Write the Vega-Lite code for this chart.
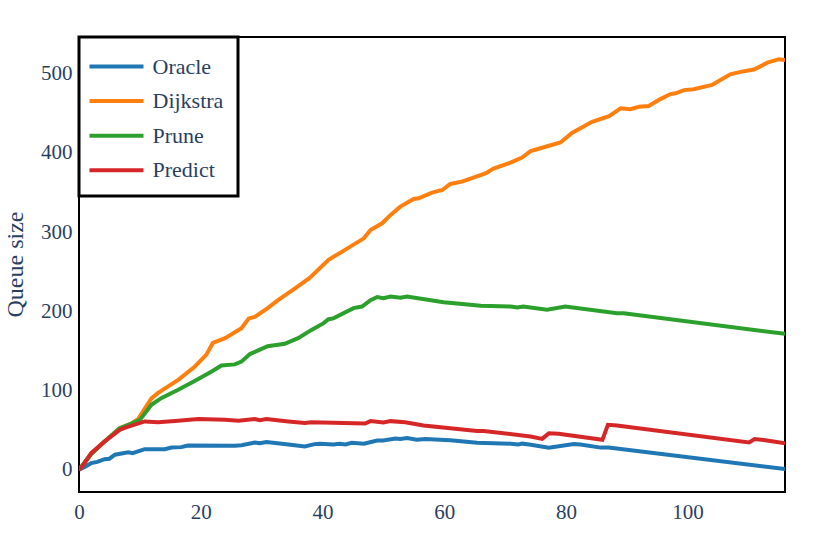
{
  "$schema": "https://vega.github.io/schema/vega-lite/v6.json",
  "width": 706,
  "height": 455,
  "autosize": {"type": "none"},
  "padding": {"left": 79, "top": 37, "right": 45, "bottom": 64},
  "background": "white",
  "config": {
    "view": {"stroke": "black", "strokeWidth": 2},
    "font": "'Liberation Serif', 'Times New Roman', Times, serif",
    "axis": {
      "grid": false,
      "domain": false,
      "ticks": false,
      "labelFlush": false,
      "labelFont": "'Liberation Serif', 'Times New Roman', Times, serif",
      "labelFontSize": 21,
      "labelColor": "#2a3f5f",
      "titleFont": "'Liberation Serif', 'Times New Roman', Times, serif",
      "titleFontSize": 24,
      "titleFontWeight": "normal",
      "titleColor": "#2a3f5f"
    }
  },
  "data": {
    "values": [
      {"x": 0, "y": 0, "series": "Oracle"},
      {"x": 1, "y": 4, "series": "Oracle"},
      {"x": 2, "y": 8.4, "series": "Oracle"},
      {"x": 3, "y": 10, "series": "Oracle"},
      {"x": 4.2, "y": 13.4, "series": "Oracle"},
      {"x": 5, "y": 14, "series": "Oracle"},
      {"x": 5.9, "y": 19, "series": "Oracle"},
      {"x": 8.1, "y": 22, "series": "Oracle"},
      {"x": 8.8, "y": 21, "series": "Oracle"},
      {"x": 10.8, "y": 26, "series": "Oracle"},
      {"x": 14.1, "y": 26, "series": "Oracle"},
      {"x": 15.2, "y": 28, "series": "Oracle"},
      {"x": 16.8, "y": 28.6, "series": "Oracle"},
      {"x": 17.9, "y": 30.7, "series": "Oracle"},
      {"x": 25.6, "y": 30.3, "series": "Oracle"},
      {"x": 26.7, "y": 31, "series": "Oracle"},
      {"x": 28.9, "y": 34.5, "series": "Oracle"},
      {"x": 29.7, "y": 33.6, "series": "Oracle"},
      {"x": 30.8, "y": 35, "series": "Oracle"},
      {"x": 34.4, "y": 32, "series": "Oracle"},
      {"x": 37.1, "y": 29.4, "series": "Oracle"},
      {"x": 38.7, "y": 32.4, "series": "Oracle"},
      {"x": 39.6, "y": 33, "series": "Oracle"},
      {"x": 41.8, "y": 32, "series": "Oracle"},
      {"x": 42.8, "y": 33, "series": "Oracle"},
      {"x": 43.8, "y": 32, "series": "Oracle"},
      {"x": 44.8, "y": 34, "series": "Oracle"},
      {"x": 46.8, "y": 33, "series": "Oracle"},
      {"x": 49, "y": 37, "series": "Oracle"},
      {"x": 50, "y": 37, "series": "Oracle"},
      {"x": 52, "y": 39.5, "series": "Oracle"},
      {"x": 52.8, "y": 39, "series": "Oracle"},
      {"x": 53.9, "y": 40, "series": "Oracle"},
      {"x": 55.5, "y": 38, "series": "Oracle"},
      {"x": 56.9, "y": 39, "series": "Oracle"},
      {"x": 61, "y": 37.4, "series": "Oracle"},
      {"x": 65.4, "y": 34, "series": "Oracle"},
      {"x": 70.9, "y": 33, "series": "Oracle"},
      {"x": 72.2, "y": 32, "series": "Oracle"},
      {"x": 72.8, "y": 33, "series": "Oracle"},
      {"x": 74, "y": 32, "series": "Oracle"},
      {"x": 77.2, "y": 28, "series": "Oracle"},
      {"x": 81.3, "y": 32.4, "series": "Oracle"},
      {"x": 82.4, "y": 32, "series": "Oracle"},
      {"x": 85.7, "y": 28, "series": "Oracle"},
      {"x": 87, "y": 28, "series": "Oracle"},
      {"x": 116, "y": 1, "series": "Oracle"},

      {"x": 0, "y": 0, "series": "Dijkstra"},
      {"x": 2, "y": 20, "series": "Dijkstra"},
      {"x": 4.2, "y": 35.7, "series": "Dijkstra"},
      {"x": 6.7, "y": 52.6, "series": "Dijkstra"},
      {"x": 8.5, "y": 58, "series": "Dijkstra"},
      {"x": 9.7, "y": 64, "series": "Dijkstra"},
      {"x": 11.9, "y": 90, "series": "Dijkstra"},
      {"x": 13, "y": 97, "series": "Dijkstra"},
      {"x": 16.3, "y": 113.5, "series": "Dijkstra"},
      {"x": 19, "y": 130, "series": "Dijkstra"},
      {"x": 20.9, "y": 145, "series": "Dijkstra"},
      {"x": 22, "y": 160, "series": "Dijkstra"},
      {"x": 24, "y": 166, "series": "Dijkstra"},
      {"x": 26.7, "y": 178.6, "series": "Dijkstra"},
      {"x": 27.9, "y": 191, "series": "Dijkstra"},
      {"x": 28.9, "y": 193, "series": "Dijkstra"},
      {"x": 31, "y": 204, "series": "Dijkstra"},
      {"x": 32.7, "y": 214, "series": "Dijkstra"},
      {"x": 35.5, "y": 229, "series": "Dijkstra"},
      {"x": 37.9, "y": 242, "series": "Dijkstra"},
      {"x": 41, "y": 265, "series": "Dijkstra"},
      {"x": 43.5, "y": 276.5, "series": "Dijkstra"},
      {"x": 46.8, "y": 292, "series": "Dijkstra"},
      {"x": 47.9, "y": 302.6, "series": "Dijkstra"},
      {"x": 49.8, "y": 311, "series": "Dijkstra"},
      {"x": 51.2, "y": 321.6, "series": "Dijkstra"},
      {"x": 52.8, "y": 332, "series": "Dijkstra"},
      {"x": 55, "y": 341.7, "series": "Dijkstra"},
      {"x": 55.8, "y": 342.6, "series": "Dijkstra"},
      {"x": 58, "y": 349.7, "series": "Dijkstra"},
      {"x": 59.7, "y": 353, "series": "Dijkstra"},
      {"x": 61, "y": 360.6, "series": "Dijkstra"},
      {"x": 62.9, "y": 363.6, "series": "Dijkstra"},
      {"x": 66.8, "y": 374, "series": "Dijkstra"},
      {"x": 68.1, "y": 380, "series": "Dijkstra"},
      {"x": 70.9, "y": 387.5, "series": "Dijkstra"},
      {"x": 72.8, "y": 394, "series": "Dijkstra"},
      {"x": 74.2, "y": 402, "series": "Dijkstra"},
      {"x": 75.8, "y": 405.6, "series": "Dijkstra"},
      {"x": 79.1, "y": 413, "series": "Dijkstra"},
      {"x": 81, "y": 425, "series": "Dijkstra"},
      {"x": 82.4, "y": 431, "series": "Dijkstra"},
      {"x": 84.3, "y": 439, "series": "Dijkstra"},
      {"x": 87.1, "y": 446, "series": "Dijkstra"},
      {"x": 89, "y": 456, "series": "Dijkstra"},
      {"x": 90.6, "y": 455, "series": "Dijkstra"},
      {"x": 92, "y": 458, "series": "Dijkstra"},
      {"x": 93.6, "y": 459, "series": "Dijkstra"},
      {"x": 95.6, "y": 468, "series": "Dijkstra"},
      {"x": 97.2, "y": 474, "series": "Dijkstra"},
      {"x": 98, "y": 475, "series": "Dijkstra"},
      {"x": 99.4, "y": 479, "series": "Dijkstra"},
      {"x": 101, "y": 480, "series": "Dijkstra"},
      {"x": 104, "y": 485.5, "series": "Dijkstra"},
      {"x": 107, "y": 499, "series": "Dijkstra"},
      {"x": 108.7, "y": 502, "series": "Dijkstra"},
      {"x": 110.9, "y": 505, "series": "Dijkstra"},
      {"x": 113.1, "y": 513.6, "series": "Dijkstra"},
      {"x": 115, "y": 518, "series": "Dijkstra"},
      {"x": 116, "y": 517, "series": "Dijkstra"},

      {"x": 0, "y": 0, "series": "Prune"},
      {"x": 2, "y": 20, "series": "Prune"},
      {"x": 4.2, "y": 35.7, "series": "Prune"},
      {"x": 6.7, "y": 52.6, "series": "Prune"},
      {"x": 8.5, "y": 58, "series": "Prune"},
      {"x": 10, "y": 63, "series": "Prune"},
      {"x": 11.9, "y": 82, "series": "Prune"},
      {"x": 13.5, "y": 90.4, "series": "Prune"},
      {"x": 16.3, "y": 101, "series": "Prune"},
      {"x": 19, "y": 112, "series": "Prune"},
      {"x": 21.8, "y": 124, "series": "Prune"},
      {"x": 23.4, "y": 131.5, "series": "Prune"},
      {"x": 25.6, "y": 133, "series": "Prune"},
      {"x": 26.7, "y": 136.6, "series": "Prune"},
      {"x": 28.1, "y": 146, "series": "Prune"},
      {"x": 31, "y": 156, "series": "Prune"},
      {"x": 33.8, "y": 159, "series": "Prune"},
      {"x": 36, "y": 166, "series": "Prune"},
      {"x": 38.2, "y": 176.5, "series": "Prune"},
      {"x": 40.2, "y": 185, "series": "Prune"},
      {"x": 41, "y": 190, "series": "Prune"},
      {"x": 41.8, "y": 191, "series": "Prune"},
      {"x": 45.1, "y": 204, "series": "Prune"},
      {"x": 46.5, "y": 206, "series": "Prune"},
      {"x": 47.9, "y": 214, "series": "Prune"},
      {"x": 49, "y": 218, "series": "Prune"},
      {"x": 50, "y": 216.5, "series": "Prune"},
      {"x": 51.2, "y": 218.6, "series": "Prune"},
      {"x": 52.8, "y": 217, "series": "Prune"},
      {"x": 53.9, "y": 218.6, "series": "Prune"},
      {"x": 59.9, "y": 211.5, "series": "Prune"},
      {"x": 66, "y": 207, "series": "Prune"},
      {"x": 70.9, "y": 206, "series": "Prune"},
      {"x": 72, "y": 204.7, "series": "Prune"},
      {"x": 73, "y": 206, "series": "Prune"},
      {"x": 76.9, "y": 202, "series": "Prune"},
      {"x": 79.9, "y": 206, "series": "Prune"},
      {"x": 88.4, "y": 197.6, "series": "Prune"},
      {"x": 89.5, "y": 197.6, "series": "Prune"},
      {"x": 116, "y": 171.5, "series": "Prune"},

      {"x": 0, "y": 0, "series": "Predict"},
      {"x": 0.7, "y": 6, "series": "Predict"},
      {"x": 2, "y": 21, "series": "Predict"},
      {"x": 4.2, "y": 35.7, "series": "Predict"},
      {"x": 6.7, "y": 50.4, "series": "Predict"},
      {"x": 7.5, "y": 53, "series": "Predict"},
      {"x": 10.8, "y": 61, "series": "Predict"},
      {"x": 13, "y": 60, "series": "Predict"},
      {"x": 16.3, "y": 62, "series": "Predict"},
      {"x": 19.6, "y": 64, "series": "Predict"},
      {"x": 24, "y": 63, "series": "Predict"},
      {"x": 26.2, "y": 62, "series": "Predict"},
      {"x": 28.9, "y": 64, "series": "Predict"},
      {"x": 29.7, "y": 62.6, "series": "Predict"},
      {"x": 30.8, "y": 64, "series": "Predict"},
      {"x": 34.4, "y": 61, "series": "Predict"},
      {"x": 37.1, "y": 59, "series": "Predict"},
      {"x": 38.2, "y": 60, "series": "Predict"},
      {"x": 47, "y": 58.4, "series": "Predict"},
      {"x": 47.9, "y": 61.4, "series": "Predict"},
      {"x": 50, "y": 59.6, "series": "Predict"},
      {"x": 51.2, "y": 61.4, "series": "Predict"},
      {"x": 53.6, "y": 60, "series": "Predict"},
      {"x": 56.6, "y": 56, "series": "Predict"},
      {"x": 65.4, "y": 49, "series": "Predict"},
      {"x": 66.5, "y": 49, "series": "Predict"},
      {"x": 74.2, "y": 42, "series": "Predict"},
      {"x": 76.1, "y": 39, "series": "Predict"},
      {"x": 77.2, "y": 46, "series": "Predict"},
      {"x": 78.8, "y": 45.4, "series": "Predict"},
      {"x": 86, "y": 37.8, "series": "Predict"},
      {"x": 86.9, "y": 56.7, "series": "Predict"},
      {"x": 88.4, "y": 56, "series": "Predict"},
      {"x": 110.1, "y": 34.5, "series": "Predict"},
      {"x": 111, "y": 38.7, "series": "Predict"},
      {"x": 112.5, "y": 37.5, "series": "Predict"},
      {"x": 116, "y": 33.6, "series": "Predict"}
    ]
  },
  "mark": {"type": "line", "strokeWidth": 4, "clip": true},
  "encoding": {
    "x": {
      "field": "x",
      "type": "quantitative",
      "scale": {"domain": [0, 116], "nice": false, "zero": false},
      "axis": {"title": null, "values": [0, 20, 40, 60, 80, 100], "labelPadding": 9}
    },
    "y": {
      "field": "y",
      "type": "quantitative",
      "scale": {"domain": [-28, 546], "nice": false, "zero": false},
      "axis": {
        "title": "Queue size",
        "values": [0, 100, 200, 300, 400, 500],
        "labelPadding": 7,
        "titleX": -64,
        "titleY": 227,
        "titleAngle": -90,
        "titleAlign": "center",
        "titleBaseline": "middle"
      }
    },
    "color": {
      "field": "series",
      "type": "nominal",
      "sort": ["Oracle", "Dijkstra", "Prune", "Predict"],
      "scale": {
        "domain": ["Oracle", "Dijkstra", "Prune", "Predict"],
        "range": ["#1f77b4", "#ff7f0e", "#2ca02c", "#d62728"]
      },
      "legend": {
        "title": null,
        "orient": "none",
        "legendX": 0,
        "legendY": 0,
        "fillColor": "white",
        "strokeColor": "black",
        "padding": 14,
        "symbolType": "M-2,0H2",
        "symbolSize": 729,
        "symbolOffset": 8,
        "symbolStrokeWidth": 4,
        "labelOffset": 20.5,
        "labelFont": "'Liberation Serif', 'Times New Roman', Times, serif",
        "labelFontSize": 22,
        "labelColor": "#2a3f5f",
        "rowPadding": 7.6,
        "encode": {"legend": {"update": {"strokeWidth": {"value": 3}}}}
      }
    }
  }
}
